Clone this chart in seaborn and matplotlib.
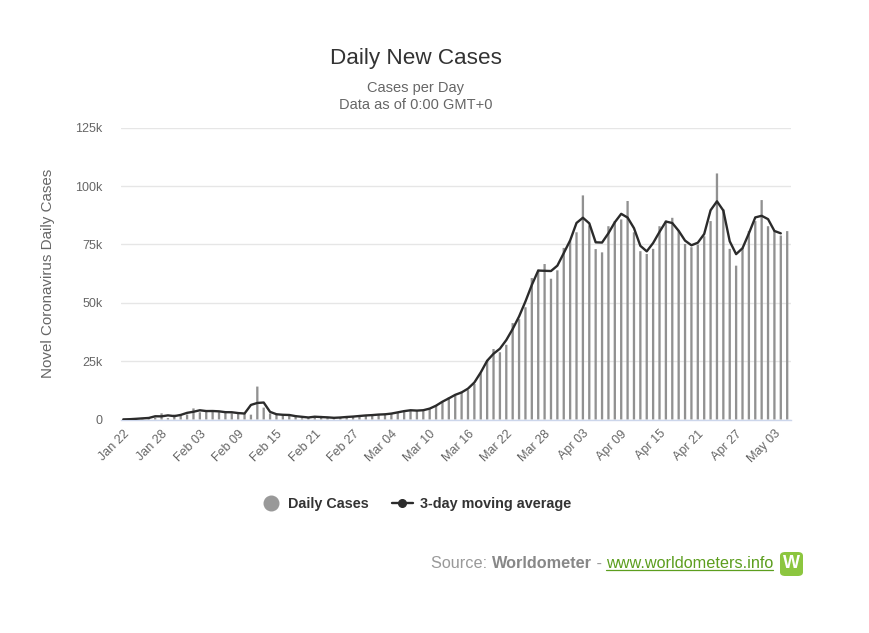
import numpy as np
import pandas as pd
import matplotlib
matplotlib.use('Agg')
import matplotlib.pyplot as plt
from matplotlib.lines import Line2D
from matplotlib.patches import FancyBboxPatch
import seaborn as sns

# daily new cases, Jan 22 .. May 05 (last day partial)
dates = pd.date_range('2020-01-22', '2020-05-05', freq='D')
cases = [
    0, 98, 288, 493, 684, 809, 2651, 588, 2068, 1693,
    2111, 4749, 3094, 4011, 3743, 3159, 3597, 2653, 3069, 2549,
    2068, 14108, 5092, 2611, 2100, 2049, 1910, 1851, 544, 1061,
    996, 1535, 609, 624, 935, 1013, 1301, 1446, 1768, 1987,
    1903, 2443, 2331, 2828, 4024, 3913, 3930, 3600, 4400, 6000,
    7400, 9500, 10300, 11900, 12600, 15200, 19800, 25500, 30200, 28800,
    32000, 41300, 43000, 48100, 60600, 64200, 66600, 60300, 63900, 73500,
    76400, 80200, 96000, 83100, 73000, 71600, 82800, 85000, 85700, 93600,
    80200, 72100, 70900, 73100, 82800, 85200, 86400, 80900, 75200, 73800,
    74900, 78500, 85000, 105400, 90000, 73100, 65900, 73500, 80700, 85000,
    94000, 82800, 80700, 78800, 80700,
]
y_ticks = [0, 25000, 50000, 75000, 100000, 125000]
y_tick_labels = ['0', '25k', '50k', '75k', '100k', '125k']
x_tick_every = 6

df = pd.DataFrame({'day': np.arange(len(dates)), 'cases': cases})
# 3-day moving average (centered), not drawn for the partial last day
ma = df['cases'].iloc[:-1].rolling(3, center=True, min_periods=2).mean()
df_ma = pd.DataFrame({'day': df['day'].iloc[:-1], 'ma': ma})

sns.set_style('white')
plt.rcParams['font.family'] = ['Liberation Sans', 'DejaVu Sans']

W, H = 870, 633
fig = plt.figure(figsize=(W / 100, H / 100), dpi=100)
left, right, top, bottom = 120.7, 790.7, 127.7, 419.5
ax = fig.add_axes([left / W, 1 - bottom / H, (right - left) / W, (bottom - top) / H])

sns.barplot(data=df, x='day', y='cases', color='#919191', width=0.36,
            saturation=1, linewidth=0, ax=ax, zorder=2)
for p in ax.patches:
    p.set_snap(False)
sns.lineplot(data=df_ma, x='day', y='ma', color='#2b2b2b', linewidth=1.7,
             ax=ax, zorder=3)

ax.set_xlim(-0.4, len(dates) - 0.45)
ax.set_ylim(0, 125000)
ax.set_yticks(y_ticks)
ax.set_yticklabels(y_tick_labels)
tick_pos = list(range(0, len(dates), x_tick_every))
ax.set_xticks(tick_pos)
ax.set_xticklabels([dates[i].strftime('%b %d') for i in tick_pos],
                   rotation=45, ha='right', rotation_mode='anchor')
ax.tick_params(axis='both', length=0, labelsize=9, colors='#666666')
ax.tick_params(axis='y', pad=13)
ax.tick_params(axis='x', pad=6)
ax.yaxis.grid(True, color='#e6e6e6', linewidth=1, zorder=0)
ax.set_axisbelow(True)
for s in ['top', 'right', 'left']:
    ax.spines[s].set_visible(False)
ax.spines['bottom'].set_color('#ccd6eb')
ax.spines['bottom'].set_linewidth(1)
ax.set_xlabel('')
ax.set_ylabel('Novel Coronavirus Daily Cases', fontsize=10.9, color='#666666')
ax.yaxis.set_label_coords((55 - left) / (right - left), 0.5)

# titles
fig.text(416 / W, 1 - 64 / H, 'Daily New Cases', ha='center', va='baseline',
         fontsize=16.2, color='#333333')
fig.text(416 / W, 1 - 91.7 / H, 'Cases per Day', ha='center', va='baseline',
         fontsize=10.5, color='#666666')
fig.text(416 / W, 1 - 109.3 / H, 'Data as of 0:00 GMT+0', ha='center', va='baseline',
         fontsize=10.5, color='#666666')

# legend
handles = [
    Line2D([], [], linestyle='none', marker='o', markersize=10.5,
           markerfacecolor='#999999', markeredgecolor='#999999'),
    Line2D([], [], color='#2b2b2b', linewidth=1.7, marker='o', markersize=5.5),
]
fig.legend(handles, ['Daily Cases', '3-day moving average'], loc='center',
           bbox_to_anchor=(416 / W, 1 - 504 / H), ncol=2, frameon=False,
           prop={'weight': 'bold', 'size': 10.4}, labelcolor='#333333',
           handlelength=1.4, handletextpad=0.5, columnspacing=1.6)

# source line
t1 = fig.text(431 / W, 1 - 568 / H, 'Source: ', fontsize=11.7, color='#999999',
              va='baseline')
t2 = ax.annotate('Worldometer', xy=(1, 0), xycoords=t1, va='bottom',
                 fontsize=11.7, color='#888888', fontweight='bold')
t3 = ax.annotate(' - ', xy=(1, 0), xycoords=t2, va='bottom',
                 fontsize=11.7, color='#999999')
t4 = ax.annotate('www.worldometers.info', xy=(1, 0), xycoords=t3, va='bottom',
                 fontsize=11.7, color='#5c9e1e')
fig.canvas.draw()
bb = t4.get_window_extent().transformed(fig.transFigure.inverted())
fig.add_artist(Line2D([bb.x0, bb.x1], [1 - 570 / H] * 2, color='#5c9e1e',
                      linewidth=0.9, transform=fig.transFigure))
logo = FancyBboxPatch((780 / W, 1 - 576 / H), 23 / W, 24 / H,
                      boxstyle='round,pad=0,rounding_size=0.006',
                      facecolor='#8cc63f', edgecolor='none',
                      transform=fig.transFigure)
fig.add_artist(logo)
fig.text(791.5 / W, 1 - 564 / H, 'W', ha='center', va='center', fontsize=13,
         color='white', fontweight='bold')

fig.savefig('out.png', dpi=100, facecolor='white')
